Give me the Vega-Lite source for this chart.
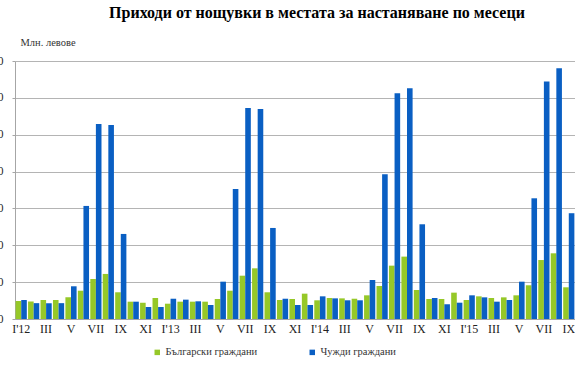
{
  "$schema": "https://vega.github.io/schema/vega-lite/v6.json",
  "width": 560,
  "height": 258,
  "autosize": {"type": "none"},
  "padding": {"left": 15, "top": 61, "right": 0, "bottom": 56},
  "background": "white",
  "title": {
    "text": "Приходи от нощувки в местата за настаняване по месеци",
    "font": "Liberation Serif",
    "fontSize": 16,
    "fontWeight": "bold",
    "color": "#000000",
    "anchor": "middle",
    "dx": 22,
    "offset": 16
  },
  "data": {
    "values": [
      {"m": "I'12", "s": "Български граждани", "v": 19.4}, {"m": "I'12", "s": "Чужди граждани", "v": 20.6},
      {"m": "II'12", "s": "Български граждани", "v": 19.0}, {"m": "II'12", "s": "Чужди граждани", "v": 17.2},
      {"m": "III'12", "s": "Български граждани", "v": 20.6}, {"m": "III'12", "s": "Чужди граждани", "v": 17.2},
      {"m": "IV'12", "s": "Български граждани", "v": 20.6}, {"m": "IV'12", "s": "Чужди граждани", "v": 17.2},
      {"m": "V'12", "s": "Български граждани", "v": 23.6}, {"m": "V'12", "s": "Чужди граждани", "v": 35.5},
      {"m": "VI'12", "s": "Български граждани", "v": 30.7}, {"m": "VI'12", "s": "Чужди граждани", "v": 122.7},
      {"m": "VII'12", "s": "Български граждани", "v": 43.4}, {"m": "VII'12", "s": "Чужди граждани", "v": 211.7},
      {"m": "VIII'12", "s": "Български граждани", "v": 48.9}, {"m": "VIII'12", "s": "Чужди граждани", "v": 210.6},
      {"m": "IX'12", "s": "Български граждани", "v": 29.0}, {"m": "IX'12", "s": "Чужди граждани", "v": 92.3},
      {"m": "X'12", "s": "Български граждани", "v": 18.8}, {"m": "X'12", "s": "Чужди граждани", "v": 18.8},
      {"m": "XI'12", "s": "Български граждани", "v": 17.7}, {"m": "XI'12", "s": "Чужди граждани", "v": 13.0},
      {"m": "XII'12", "s": "Български граждани", "v": 22.8}, {"m": "XII'12", "s": "Чужди граждани", "v": 13.0},
      {"m": "I'13", "s": "Български граждани", "v": 16.6}, {"m": "I'13", "s": "Чужди граждани", "v": 22.0},
      {"m": "II'13", "s": "Български граждани", "v": 18.8}, {"m": "II'13", "s": "Чужди граждани", "v": 21.0},
      {"m": "III'13", "s": "Български граждани", "v": 18.8}, {"m": "III'13", "s": "Чужди граждани", "v": 19.2},
      {"m": "IV'13", "s": "Български граждани", "v": 18.8}, {"m": "IV'13", "s": "Чужди граждани", "v": 15.2},
      {"m": "V'13", "s": "Български граждани", "v": 21.7}, {"m": "V'13", "s": "Чужди граждани", "v": 40.5},
      {"m": "VI'13", "s": "Български граждани", "v": 30.7}, {"m": "VI'13", "s": "Чужди граждани", "v": 141.0},
      {"m": "VII'13", "s": "Български граждани", "v": 47.0}, {"m": "VII'13", "s": "Чужди граждани", "v": 229.0},
      {"m": "VIII'13", "s": "Български граждани", "v": 55.0}, {"m": "VIII'13", "s": "Чужди граждани", "v": 228.0},
      {"m": "IX'13", "s": "Български граждани", "v": 29.0}, {"m": "IX'13", "s": "Чужди граждани", "v": 98.8},
      {"m": "X'13", "s": "Български граждани", "v": 20.6}, {"m": "X'13", "s": "Чужди граждани", "v": 22.0},
      {"m": "XI'13", "s": "Български граждани", "v": 21.7}, {"m": "XI'13", "s": "Чужди граждани", "v": 15.2},
      {"m": "XII'13", "s": "Български граждани", "v": 27.5}, {"m": "XII'13", "s": "Чужди граждани", "v": 15.2},
      {"m": "I'14", "s": "Български граждани", "v": 20.3}, {"m": "I'14", "s": "Чужди граждани", "v": 24.6},
      {"m": "II'14", "s": "Български граждани", "v": 22.8}, {"m": "II'14", "s": "Чужди граждани", "v": 22.4},
      {"m": "III'14", "s": "Български граждани", "v": 22.4}, {"m": "III'14", "s": "Чужди граждани", "v": 20.3},
      {"m": "IV'14", "s": "Български граждани", "v": 22.0}, {"m": "IV'14", "s": "Чужди граждани", "v": 20.3},
      {"m": "V'14", "s": "Български граждани", "v": 25.7}, {"m": "V'14", "s": "Чужди граждани", "v": 42.3},
      {"m": "VI'14", "s": "Български граждани", "v": 35.8}, {"m": "VI'14", "s": "Чужди граждани", "v": 157.0},
      {"m": "VII'14", "s": "Български граждани", "v": 57.9}, {"m": "VII'14", "s": "Чужди граждани", "v": 245.0},
      {"m": "VIII'14", "s": "Български граждани", "v": 67.7}, {"m": "VIII'14", "s": "Чужди граждани", "v": 250.5},
      {"m": "IX'14", "s": "Български граждани", "v": 31.5}, {"m": "IX'14", "s": "Чужди граждани", "v": 102.8},
      {"m": "X'14", "s": "Български граждани", "v": 21.7}, {"m": "X'14", "s": "Чужди граждани", "v": 22.8},
      {"m": "XI'14", "s": "Български граждани", "v": 21.7}, {"m": "XI'14", "s": "Чужди граждани", "v": 16.0},
      {"m": "XII'14", "s": "Български граждани", "v": 28.6}, {"m": "XII'14", "s": "Чужди граждани", "v": 17.7},
      {"m": "I'15", "s": "Български граждани", "v": 20.6}, {"m": "I'15", "s": "Чужди граждани", "v": 25.7},
      {"m": "II'15", "s": "Български граждани", "v": 24.6}, {"m": "II'15", "s": "Чужди граждани", "v": 23.5},
      {"m": "III'15", "s": "Български граждани", "v": 22.8}, {"m": "III'15", "s": "Чужди граждани", "v": 18.8},
      {"m": "IV'15", "s": "Български граждани", "v": 23.5}, {"m": "IV'15", "s": "Чужди граждани", "v": 20.6},
      {"m": "V'15", "s": "Български граждани", "v": 25.7}, {"m": "V'15", "s": "Чужди граждани", "v": 40.5},
      {"m": "VI'15", "s": "Български граждани", "v": 36.6}, {"m": "VI'15", "s": "Чужди граждани", "v": 131.0},
      {"m": "VII'15", "s": "Български граждани", "v": 64.0}, {"m": "VII'15", "s": "Чужди граждани", "v": 257.7},
      {"m": "VIII'15", "s": "Български граждани", "v": 71.3}, {"m": "VIII'15", "s": "Чужди граждани", "v": 272.0},
      {"m": "IX'15", "s": "Български граждани", "v": 34.4}, {"m": "IX'15", "s": "Чужди граждани", "v": 114.8}
    ]
  },
  "mark": {"type": "bar"},
  "encoding": {
    "x": {
      "field": "m",
      "type": "nominal",
      "sort": null,
      "scale": {"paddingInner": 0.1, "paddingOuter": 0.05},
      "axis": {
        "title": null,
        "labelAngle": 0,
        "labelOverlap": false,
        "labelExpr": "test(/^I'/, datum.value) ? datum.value : (test(/^(III|V|VII|IX|XI)'/, datum.value) ? split(datum.value, \"'\")[0] : '')",
        "labelFont": "Liberation Serif",
        "labelFontSize": 12,
        "labelColor": "#222222",
        "labelPadding": 4,
        "ticks": false,
        "domainColor": "#a6a6a6",
        "grid": false
      }
    },
    "xOffset": {"field": "s", "type": "nominal"},
    "y": {
      "field": "v",
      "type": "quantitative",
      "scale": {"domain": [0, 280], "nice": false},
      "axis": {
        "values": [0, 40, 80, 120, 160, 200, 240, 280],
        "title": "Млн. левове",
        "titleAngle": 0,
        "titleAlign": "left",
        "titleBaseline": "middle",
        "titleX": 5,
        "titleY": -19,
        "titleFont": "Liberation Serif",
        "titleFontSize": 10.5,
        "titleFontWeight": "normal",
        "titleColor": "#333333",
        "labelFont": "Liberation Serif",
        "labelFontSize": 11.5,
        "labelColor": "#222222",
        "labelPadding": 9,
        "tickSize": 3,
        "tickColor": "#a6a6a6",
        "domainColor": "#a6a6a6",
        "gridColor": "#b4b4b4"
      }
    },
    "color": {
      "field": "s",
      "type": "nominal",
      "scale": {"range": ["#96c828", "#0a5fc3"]},
      "legend": {
        "title": null,
        "orient": "none",
        "legendX": 137,
        "legendY": 286,
        "direction": "horizontal",
        "symbolType": "square",
        "symbolSize": 30,
        "symbolStrokeWidth": 0,
        "labelFont": "Liberation Serif",
        "labelFontSize": 10.5,
        "labelColor": "#333333",
        "labelOffset": 3,
        "columnPadding": 49
      }
    }
  },
  "config": {"view": {"stroke": null}}
}
